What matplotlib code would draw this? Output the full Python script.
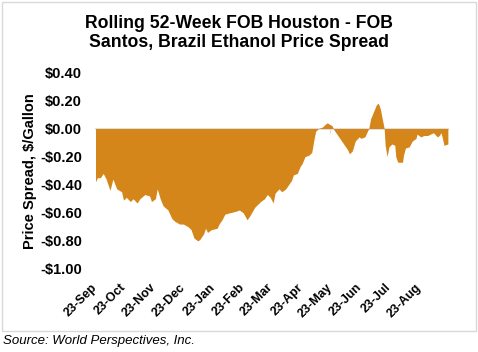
import matplotlib
matplotlib.use("Agg")
import matplotlib.pyplot as plt
import matplotlib.dates as mdates
import matplotlib.patches as patches
import pandas as pd

####################################
#              data                #
####################################
dates = ["2023-09-23", "2023-09-25", "2023-09-28", "2023-10-01", "2023-10-04", "2023-10-08",
         "2023-10-11", "2023-10-15", "2023-10-20", "2023-10-22", "2023-10-25", "2023-10-29",
         "2023-11-01", "2023-11-05", "2023-11-08", "2023-11-13", "2023-11-18", "2023-11-20",
         "2023-11-24", "2023-11-26", "2023-11-29", "2023-12-02", "2023-12-07", "2023-12-11",
         "2023-12-14", "2023-12-19", "2023-12-23", "2023-12-28", "2023-12-31", "2024-01-03",
         "2024-01-07", "2024-01-09", "2024-01-13", "2024-01-15", "2024-01-17", "2024-01-21",
         "2024-01-27", "2024-01-29", "2024-02-01", "2024-02-04", "2024-02-09", "2024-02-15",
         "2024-02-19", "2024-02-23", "2024-02-27", "2024-03-01", "2024-03-06", "2024-03-12",
         "2024-03-16", "2024-03-19", "2024-03-22", "2024-03-25", "2024-03-27", "2024-03-31",
         "2024-04-03", "2024-04-07", "2024-04-10", "2024-04-13", "2024-04-15", "2024-04-19",
         "2024-04-22", "2024-04-24", "2024-04-27", "2024-05-01", "2024-05-04", "2024-05-06",
         "2024-05-08", "2024-05-11", "2024-05-15", "2024-05-18", "2024-05-20", "2024-05-25",
         "2024-05-27", "2024-06-01", "2024-06-06", "2024-06-10", "2024-06-12", "2024-06-15",
         "2024-06-18", "2024-06-22", "2024-06-24", "2024-06-28", "2024-06-30", "2024-07-02",
         "2024-07-04", "2024-07-07", "2024-07-10", "2024-07-12", "2024-07-14", "2024-07-16",
         "2024-07-18", "2024-07-19", "2024-07-21", "2024-07-23", "2024-07-26", "2024-07-29",
         "2024-07-30", "2024-08-01", "2024-08-06", "2024-08-07", "2024-08-09", "2024-08-13",
         "2024-08-16", "2024-08-20", "2024-08-21", "2024-08-25", "2024-08-28", "2024-09-01",
         "2024-09-04", "2024-09-07", "2024-09-11", "2024-09-13", "2024-09-15", "2024-09-18",
         "2024-09-22"]
spread = [-0.38, -0.35, -0.35, -0.32, -0.36, -0.44,
          -0.36, -0.43, -0.45, -0.51, -0.49, -0.52,
          -0.50, -0.53, -0.50, -0.47, -0.48, -0.52,
          -0.50, -0.43, -0.50, -0.55, -0.58, -0.64,
          -0.66, -0.68, -0.68, -0.70, -0.72, -0.78,
          -0.80, -0.79, -0.75, -0.71, -0.74, -0.72,
          -0.71, -0.68, -0.65, -0.61, -0.60, -0.59,
          -0.58, -0.60, -0.65, -0.62, -0.56, -0.52,
          -0.50, -0.47, -0.49, -0.53, -0.46, -0.43,
          -0.45, -0.43, -0.40, -0.37, -0.33, -0.32,
          -0.27, -0.25, -0.20, -0.19, -0.17, -0.09,
          -0.02, 0.00, 0.01, 0.03, 0.04, 0.02,
          -0.01, -0.06, -0.11, -0.15, -0.18, -0.16,
          -0.09, -0.06, -0.07, -0.06, -0.03, 0.00,
          0.07, 0.12, 0.17, 0.18, 0.14, 0.07,
          0.00, -0.12, -0.20, -0.13, -0.11, -0.12,
          -0.20, -0.24, -0.24, -0.19, -0.14, -0.13,
          -0.09, -0.07, -0.04, -0.06, -0.05, -0.05,
          -0.04, -0.03, -0.06, -0.05, -0.03, -0.12,
          -0.11]

title = "Rolling 52-Week FOB Houston - FOB\nSantos, Brazil Ethanol Price Spread"
ylabel = "Price Spread, $/Gallon"
source = "Source: World Perspectives, Inc."
x_start, x_end = "2023-09-23", "2024-09-22"

fill_color = "#D4861A"
grid_gray = "#D9D9D9"

####################################
#              plot                #
####################################
plt.rcParams['font.family'] = ['Liberation Sans', 'DejaVu Sans']

x = pd.to_datetime(dates)
fig = plt.figure(figsize=(4.78, 3.52), dpi=100)
ax = fig.add_axes([0.1998, 0.2358, 0.7372, 0.5588])

ax.fill_between(x, spread, 0, color=fill_color, linewidth=0)

ax.set_xlim(pd.Timestamp(x_start), pd.Timestamp(x_end))
ax.set_ylim(-1.0, 0.4)
ax.set_yticks([0.4, 0.2, 0.0, -0.2, -0.4, -0.6, -0.8, -1.0])
ax.yaxis.set_major_formatter(plt.FuncFormatter(
    lambda v, p: ("-$%.2f" % abs(v)) if v < -1e-9 else ("$%.2f" % abs(v))))

for s in ax.spines.values():
    s.set_visible(False)

ax.xaxis.set_major_locator(mdates.MonthLocator(bymonthday=23))
ax.xaxis.set_major_formatter(mdates.DateFormatter("%d-%b"))
ax.tick_params(axis='y', length=0, pad=9.7, labelsize=10.5)
ax.tick_params(axis='x', length=0, pad=12, labelsize=9)
for lbl in ax.get_yticklabels():
    lbl.set_fontweight('bold')
for lbl in ax.get_xticklabels():
    lbl.set_fontweight('bold')
    lbl.set_rotation(45)
    lbl.set_rotation_mode('anchor')
    lbl.set_ha('right')
    lbl.set_va('center')

# zero line with small tick marks (Excel-style axis crossing at 0)
zero_ax = ax.secondary_xaxis(0, transform=ax.transData)
zero_ax.xaxis.set_major_locator(mdates.MonthLocator(bymonthday=23))
zero_ax.spines['bottom'].set_color(grid_gray)
zero_ax.spines['bottom'].set_linewidth(1.2)
zero_ax.tick_params(axis='x', direction='out', length=3, color=grid_gray,
                    labelbottom=False)

ax.set_ylabel(ylabel, fontsize=10.5, fontweight='bold')
ax.yaxis.set_label_coords(-0.166, 0.5)

fig.text(0.499, 0.905, title, ha='center', va='center', fontsize=12.7,
         fontweight='bold', linespacing=1.15)
fig.text(0.006, 0.031, source, ha='left', va='center', fontsize=9.5,
         style='italic')

fig.add_artist(patches.Rectangle((2 / 478, 1 - 331 / 352), 474 / 478, 329 / 352,
                                 transform=fig.transFigure, fill=False,
                                 edgecolor=grid_gray, linewidth=1))

plt.savefig("out.png", dpi=100)
plt.close()
